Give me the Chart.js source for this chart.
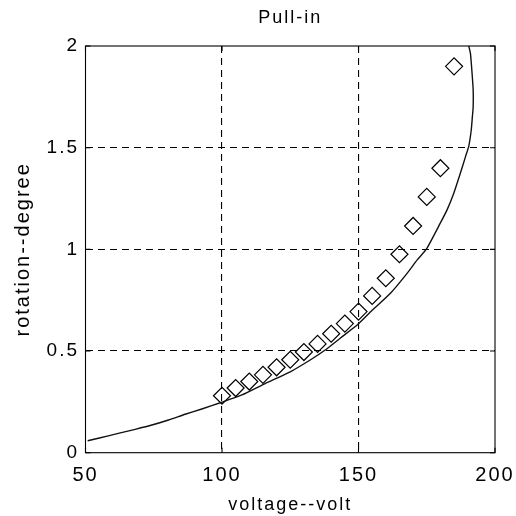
<!DOCTYPE html>
<html>
<head>
<meta charset="utf-8">
<script src="https://cdn.jsdelivr.net/npm/chart.js@4.4.1/dist/chart.umd.min.js"></script>
<style>
html,body{margin:0;padding:0;background:#fff;}
#wrap{width:516px;height:516px;}
</style>
</head>
<body>
<div id="wrap"><canvas id="c" width="516" height="516"></canvas></div>
<script>
// Simulated curve (voltage, rotation)
const curveVolt = [50.8, 54.7, 62.0, 68.2, 74.3, 80.4, 86.5, 92.6, 99.9, 107.3, 115.8, 125.0, 132.3, 137.8, 143.3, 149.7, 155.0, 161.7, 167.8, 171.5, 174.9, 180.0, 182.4, 184.9, 187.3, 189.2, 190.4, 191.3, 191.7, 192.0, 192.0, 191.6, 191.0, 190.4];
const curveRot  = [0.059, 0.071, 0.095, 0.115, 0.136, 0.161, 0.189, 0.215, 0.248, 0.284, 0.340, 0.398, 0.456, 0.505, 0.563, 0.630, 0.700, 0.784, 0.882, 0.948, 1.002, 1.13, 1.193, 1.276, 1.374, 1.456, 1.508, 1.587, 1.65, 1.70, 1.784, 1.866, 1.964, 2.0];
// Measured points (diamonds)
const measVolt = [100, 105, 110, 115, 120, 125, 130, 135, 140, 145, 150, 155, 160, 165, 170, 175, 180, 185];
const measRot  = [0.28, 0.318, 0.35, 0.383, 0.42, 0.457, 0.495, 0.535, 0.585, 0.635, 0.694, 0.771, 0.858, 0.976, 1.115, 1.258, 1.399, 1.90];
const xTicks = [50, 100, 150, 200];
const yTicks = [0, 0.5, 1, 1.5, 2];
const titleText = 'Pull-in';
const xTitle = 'voltage--volt';
const yTitle = 'rotation--degree';

const FONT = "'Liberation Sans', Arial, Helvetica, sans-serif";

const spacingPlugin = {
  id: 'spacing',
  beforeInit(chart){ chart.ctx.letterSpacing = '2px'; },
  beforeLayout(chart){ chart.ctx.letterSpacing = '2px'; },
  beforeDraw(chart){ chart.ctx.letterSpacing = '2px'; }
};

const framePlugin = {
  id: 'frame',
  afterDatasetsDraw(chart){
    const {ctx, chartArea:a, scales} = chart;
    ctx.save();
    ctx.strokeStyle = '#000';
    ctx.lineWidth = 1.1;
    ctx.setLineDash([]);
    ctx.strokeRect(a.left, a.top, a.right - a.left, a.bottom - a.top);
    const tl = 5;
    ctx.beginPath();
    xTicks.forEach(v => {
      const x = scales.x.getPixelForValue(v);
      ctx.moveTo(x, a.bottom); ctx.lineTo(x, a.bottom - tl);
      ctx.moveTo(x, a.top); ctx.lineTo(x, a.top + tl);
    });
    yTicks.forEach(v => {
      const y = scales.y.getPixelForValue(v);
      ctx.moveTo(a.left, y); ctx.lineTo(a.left + tl, y);
      ctx.moveTo(a.right, y); ctx.lineTo(a.right - tl, y);
    });
    ctx.stroke();
    ctx.restore();
  }
};

new Chart(document.getElementById('c'), {
  type: 'scatter',
  data: {
    datasets: [
      {
        label: 'simulation',
        data: curveVolt.map((v, i) => ({x: v, y: curveRot[i]})),
        showLine: true,
        borderColor: '#111',
        borderWidth: 1.4,
        pointRadius: 0,
        tension: 0.2,
        fill: false
      },
      {
        label: 'measured',
        data: measVolt.map((v, i) => ({x: v, y: measRot[i]})),
        showLine: false,
        pointStyle: 'rectRot',
        pointRadius: 8.5,
        pointBorderWidth: 1.2,
        pointBorderColor: '#000',
        pointBackgroundColor: 'rgba(0,0,0,0)',
        borderColor: '#000',
        backgroundColor: 'rgba(0,0,0,0)'
      }
    ]
  },
  options: {
    responsive: false,
    animation: false,
    devicePixelRatio: 1,
    layout: { padding: { left: 0, right: 21, top: 0, bottom: 0 } },
    plugins: {
      legend: { display: false },
      tooltip: { enabled: false },
      title: {
        display: true,
        fullSize: false,
        text: titleText,
        color: '#000',
        font: { family: FONT, size: 18, weight: 'normal', lineHeight: 1.2 },
        padding: { top: 7, bottom: 17.4 }
      }
    },
    scales: {
      x: {
        type: 'linear',
        min: 50, max: 200,
        afterBuildTicks(scale){ scale.ticks = xTicks.map(v => ({value: v})); },
        afterFit(scale){ scale.height = 63.3; scale.paddingLeft = 0; scale.paddingRight = 0; },
        grid: {
          drawTicks: false,
          color: (c) => (c.tick && (c.tick.value === 50 || c.tick.value === 200)) ? 'rgba(0,0,0,0)' : '#000',
          lineWidth: 1.1
        },
        border: { display: false, dash: [7, 5] },
        ticks: { color: '#000', padding: 11, font: { family: FONT, size: 20 }, maxRotation: 0,
                 callback: (v) => String(v) },
        title: {
          display: true, text: xTitle, color: '#000',
          font: { family: FONT, size: 18, lineHeight: 1.2 },
          padding: { top: 0, bottom: 0.5 }
        }
      },
      y: {
        type: 'linear',
        min: 0, max: 2,
        afterBuildTicks(scale){ scale.ticks = yTicks.map(v => ({value: v})); },
        afterFit(scale){ scale.width = 85.5; scale.paddingTop = 0; scale.paddingBottom = 0; },
        grid: {
          drawTicks: false,
          color: (c) => (c.tick && (c.tick.value === 0 || c.tick.value === 2)) ? 'rgba(0,0,0,0)' : '#000',
          lineWidth: 1.1
        },
        border: { display: false, dash: [7, 5] },
        ticks: { color: '#000', padding: 6.5, font: { family: FONT, size: 19 },
                 callback: (v) => String(v) },
        title: {
          display: true, text: yTitle, color: '#000',
          font: { family: FONT, size: 20, lineHeight: 1.2 },
          padding: { top: 11, bottom: 0 }
        }
      }
    }
  },
  plugins: [spacingPlugin, framePlugin]
});
</script>
</body>
</html>
